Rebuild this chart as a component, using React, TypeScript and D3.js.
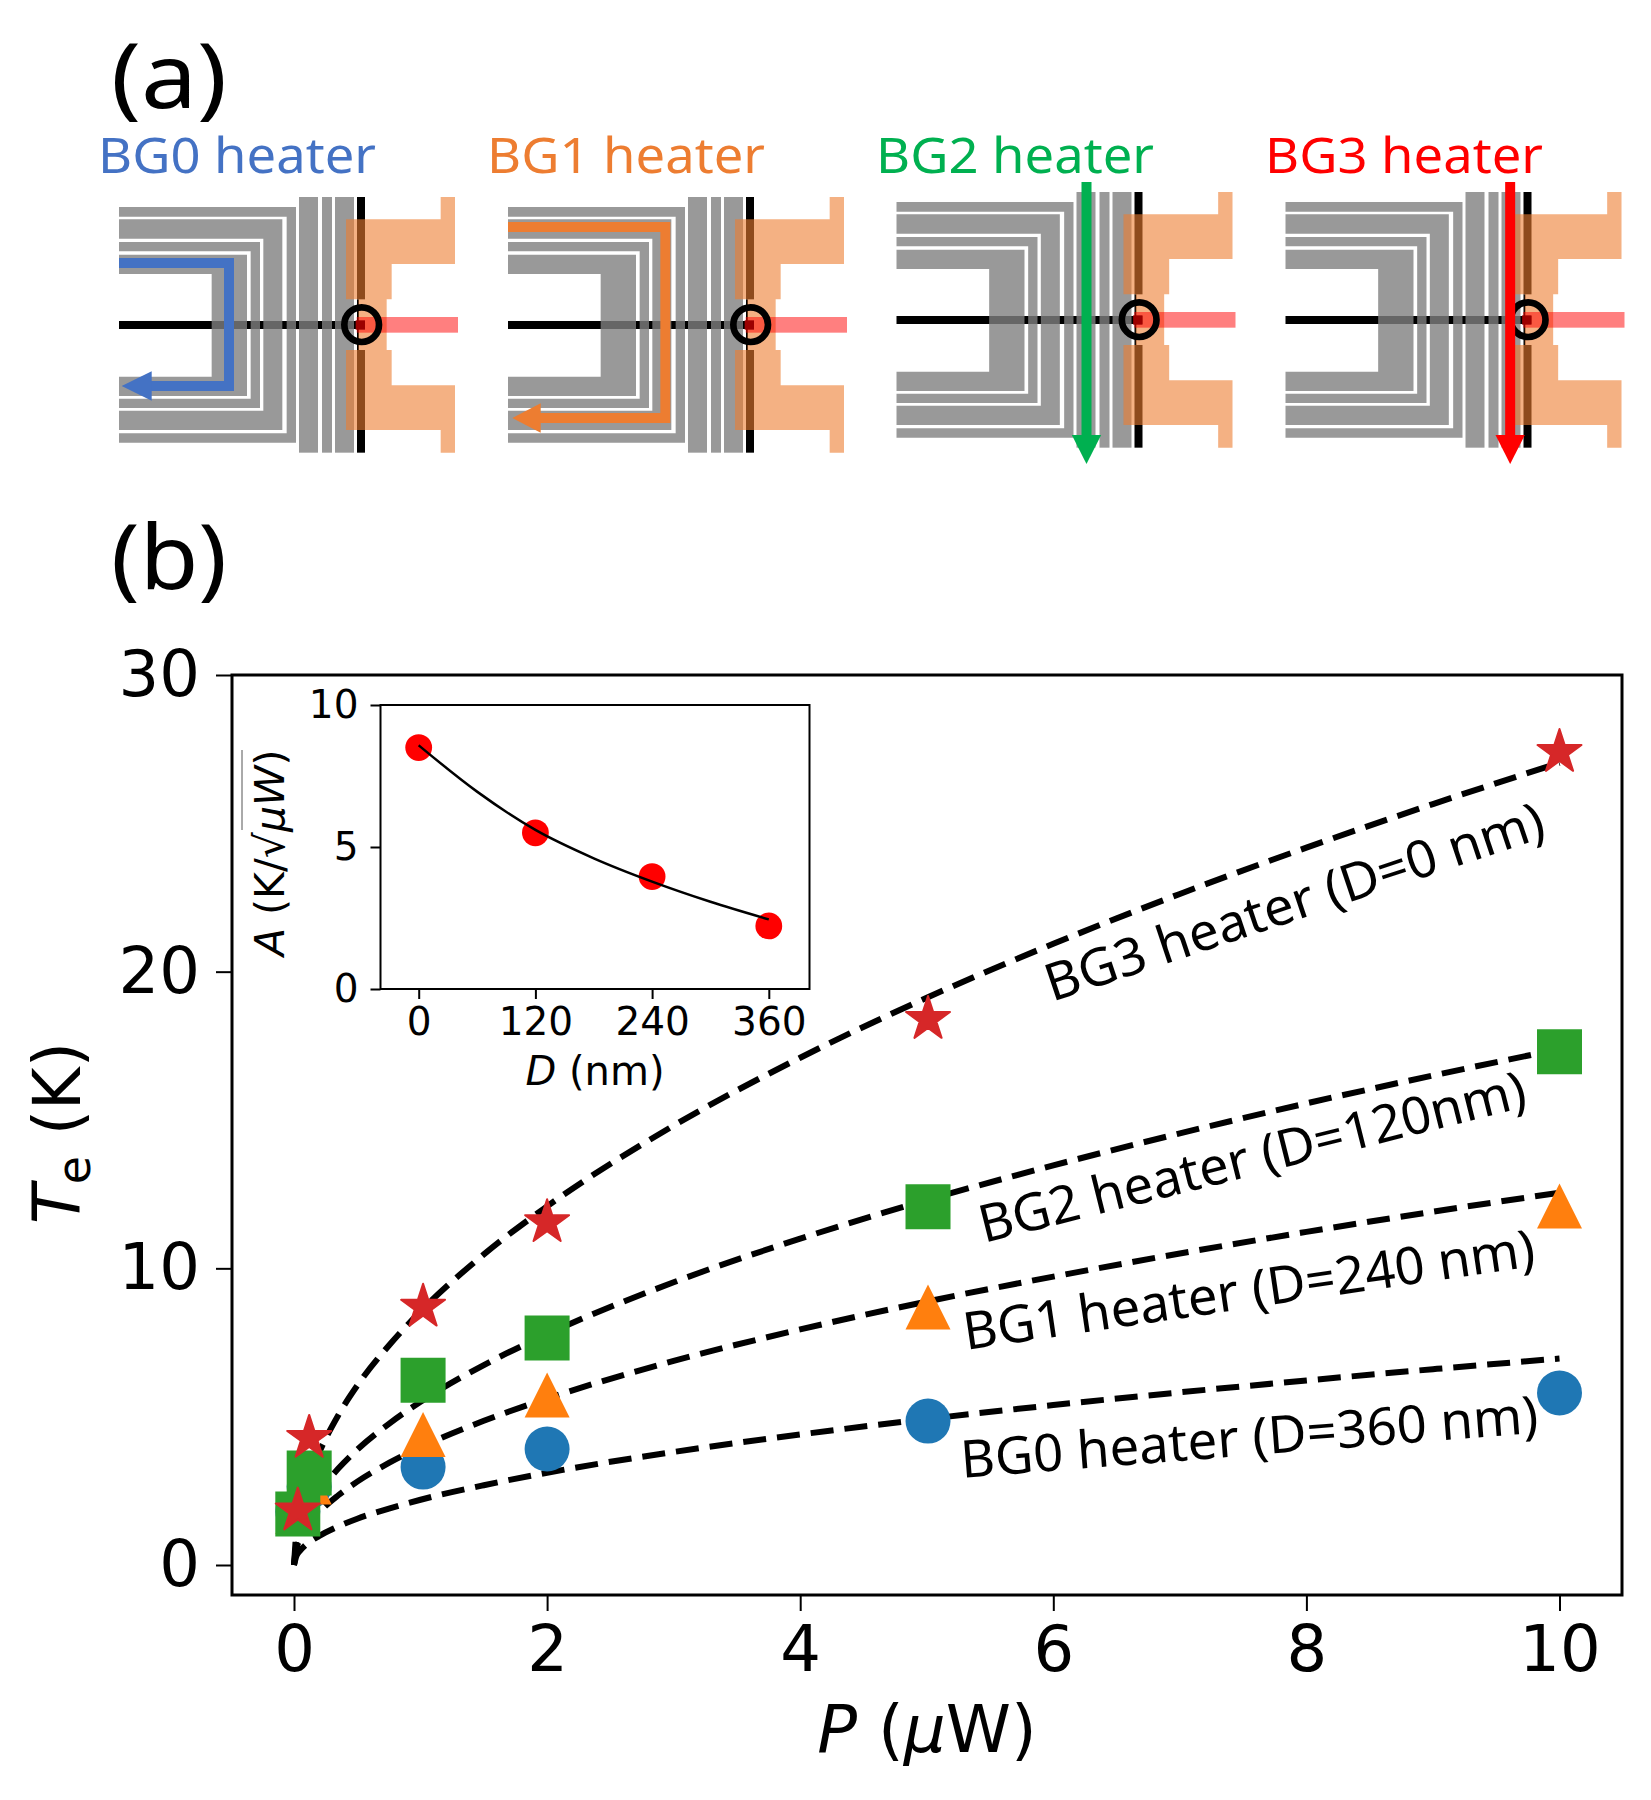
import React, { useEffect, useRef } from "react";
import * as d3 from "d3";

const curveP = [0, 0.02, 0.05, 0.1, 0.2, 0.35, 0.5, 0.75, 1, 1.5, 2, 3, 4, 5, 6, 7, 8, 9, 10];
const curveBG0 = [0, 0.31, 0.49, 0.7, 0.98, 1.3, 1.56, 1.9, 2.2, 2.69, 3.11, 3.81, 4.4, 4.92, 5.39, 5.82, 6.22, 6.6, 6.96];
const curveBG1 = [0, 0.56, 0.89, 1.25, 1.78, 2.35, 2.81, 3.44, 3.97, 4.86, 5.61, 6.88, 7.94, 8.88, 9.72, 10.5, 11.23, 11.91, 12.55];
const curveBG2 = [0, 0.78, 1.23, 1.74, 2.46, 3.25, 3.89, 4.76, 5.5, 6.74, 7.78, 9.53, 11, 12.3, 13.47, 14.55, 15.56, 16.5, 17.39];
const curveBG3 = [0, 1.2, 1.9, 2.7, 3.8, 5.05, 6.05, 7.4, 8.55, 10.47, 12.09, 14.81, 17.1, 19.12, 20.94, 22.62, 24.18, 25.65, 27.04];

// measured points
const pointP = [0.03, 0.12, 1.02, 2, 5.01, 10];
const pointsBG0 = [1.8, 2.64, 3.3, 3.91, 4.85, 5.8];
const pointsBG1 = [1.8, 2.8, 4.4, 5.73, 8.7, 12.1];
const pointsBG2 = [1.72, 3.1, 6.23, 7.65, 12.08, 17.3];
const pointsBG3 = [1.83, 4.28, 8.7, 11.55, 18.4, 27.4];

const xTicks = [0, 2, 4, 6, 8, 10];
const yTicks = [0, 10, 20, 30];

// inset
const insetD = [0, 120, 240, 360];
const insetA = [8.5, 5.5, 3.96, 2.22];
const insetFitD = [0, 60, 120, 180, 240, 300, 360];
const insetFitA = [8.58, 6.95, 5.6, 4.6, 3.78, 3.07, 2.45];
const insetYTicks = [0, 5, 10];

const annotations = [
  { text: "BG3 heater (D=0 nm)", x: 1052, y: 1002, angle: -18.5, length: 523 },
  { text: "BG2 heater (D=120nm)", x: 984, y: 1243, angle: -14.1, length: 562 },
  { text: "BG1 heater (D=240 nm)", x: 966, y: 1350, angle: -8.4, length: 577 },
  { text: "BG0 heater (D=360 nm)", x: 962, y: 1478, angle: -4.5, length: 579 },
];

const SERIES_COLORS = { BG0: "#1f77b4", BG1: "#ff7f0e", BG2: "#2ca02c", BG3: "#d62728" };
const MPL_FONT = "'DejaVu Sans', sans-serif";
const SLIDE_FONT = "'Noto Sans', sans-serif";

// schematic outline, in 3x units of a device's own frame
const uBands = [
  { right: 618, top: 261, bottom: 968, inRight: 590, inTop: 290, inBottom: 940 },
  { right: 577, top: 298, bottom: 930, inRight: 520, inTop: 356, inBottom: 872 },
  { right: 510, top: 366, bottom: 864, inRight: 482, inTop: 394, inBottom: 836 },
  { right: 471, top: 404, bottom: 828, inRight: 365, inTop: 462, inBottom: 770 },
];
const vBars = [[627, 684], [696, 726], [735, 792]];
const padOutline: [number, number][] = [
  [768, 298], [1052, 298], [1052, 231], [1095, 231], [1095, 432], [905, 432], [905, 538], [890, 538],
  [890, 690], [905, 690], [905, 796], [1095, 796], [1095, 998], [1052, 998], [1052, 930], [768, 930],
  [768, 690], [805, 690], [805, 538], [768, 538],
];

const devices = [
  { name: "BG0 heater", color: "#4472C4", dx: 0, dy: 0, titleX: 98, route: [[87, 429], [417, 429], [417, 798], [180, 798]] as [number, number][], tip: [95, 798] },
  { name: "BG1 heater", color: "#ED7D31", dx: 389, dy: 0, titleX: 487, route: [[87, 321], [559, 321], [559, 894], [180, 894]] as [number, number][], tip: [100, 894] },
  { name: "BG2 heater", color: "#00B050", dx: 777.5, dy: -5, titleX: 876, route: [[657, 201], [657, 965]] as [number, number][], tip: [657, 1047] },
  { name: "BG3 heater", color: "#FF0000", dx: 1166.5, dy: -5, titleX: 1265, route: [[761, 201], [761, 965]] as [number, number][], tip: [761, 1047] },
];

export default function App() {
  const svgRef = useRef<SVGSVGElement>(null);

  useEffect(() => {
    if (!svgRef.current) return;
    const svg = d3.select(svgRef.current);
    svg.selectAll("*").remove();

    drawSchematics(svg);
    drawMain(svg);
    drawInset(svg);
  }, []);

  return (
    <svg
      ref={svgRef}
      width={1651}
      height={1800}
      style={{ position: "absolute", left: 0, top: 0, background: "#fff" }}
    />
  );
}

function drawSchematics(svg: any) {
  const lineGen = d3.line();

  ["(a)", "(b)"].forEach((label, i) => {
    svg
      .append("text")
      .attr("x", 111)
      .attr("y", i === 0 ? 108 : 589)
      .attr("font-family", SLIDE_FONT)
      .attr("font-size", 90)
      .attr("textLength", 116)
      .attr("lengthAdjust", "spacingAndGlyphs")
      .attr("fill", "#000")
      .text(label);
  });

  devices.forEach((dev) => {
    svg
      .append("text")
      .attr("x", dev.titleX)
      .attr("y", 173)
      .attr("font-family", SLIDE_FONT)
      .attr("font-size", 50)
      .attr("textLength", 278)
      .attr("lengthAdjust", "spacingAndGlyphs")
      .attr("fill", dev.color)
      .text(dev.name);

    const g = svg
      .append("g")
      .attr("transform", `translate(${90 + dev.dx},${120 + dev.dy}) scale(${1 / 3})`);

    // wires go under the translucent gates
    g.append("rect").attr("x", 87).attr("y", 603).attr("width", 738).attr("height", 24).attr("fill", "#000");
    g.append("rect").attr("x", 801).attr("y", 231).attr("width", 24).attr("height", 307).attr("fill", "#000");
    g.append("rect").attr("x", 801).attr("y", 690).attr("width", 24).attr("height", 308).attr("fill", "#000");
    g.append("rect").attr("x", 801).attr("y", 538).attr("width", 6).attr("height", 152).attr("fill", "#000");

    uBands.forEach((u) => {
      g.append("path")
        .attr(
          "d",
          `M87,${u.top}H${u.right}V${u.bottom}H87V${u.inBottom}H${u.inRight}V${u.inTop}H87Z`
        )
        .attr("fill", "#7F7F7F")
        .attr("fill-opacity", 0.8);
    });
    vBars.forEach(([a, b]) => {
      g.append("rect")
        .attr("x", a)
        .attr("y", 231)
        .attr("width", b - a)
        .attr("height", 767)
        .attr("fill", "#7F7F7F")
        .attr("fill-opacity", 0.8);
    });

    g.append("path")
      .attr("d", lineGen(padOutline) + "Z")
      .attr("fill", "#ED7D31")
      .attr("fill-opacity", 0.6);

    g.append("rect").attr("x", 800).attr("y", 591).attr("width", 304).attr("height", 47).attr("fill", "#FF0000").attr("fill-opacity", 0.5);
    g.append("rect").attr("x", 797).attr("y", 601).attr("width", 28).attr("height", 28).attr("fill", "#9c0000");

    g.append("circle")
      .attr("cx", 815)
      .attr("cy", 614)
      .attr("r", 52)
      .attr("fill", "none")
      .attr("stroke", "#000")
      .attr("stroke-width", 20);

    // heater current arrow
    g.append("path")
      .attr("d", lineGen(dev.route))
      .attr("fill", "none")
      .attr("stroke", dev.color)
      .attr("stroke-width", 30);
    const end = dev.route[dev.route.length - 1];
    const head: [number, number][] =
      dev.route.length === 2
        ? [[end[0] - 44, 960], [end[0] + 44, 960], [dev.tip[0], dev.tip[1]]]
        : [[185, end[1] - 44], [185, end[1] + 44], [dev.tip[0], dev.tip[1]]];
    g.append("path").attr("d", lineGen(head) + "Z").attr("fill", dev.color);
  });
}

function drawMain(svg: any) {
  const margin = { left: 232, right: 1622, top: 675, bottom: 1595 };
  const x = d3.scaleLinear().domain([0, 10]).range([294, 1559.5]);
  const y = d3.scaleLinear().domain([0, 30]).range([1565, 675]);

  svg
    .append("rect")
    .attr("x", margin.left)
    .attr("y", margin.top)
    .attr("width", margin.right - margin.left)
    .attr("height", margin.bottom - margin.top)
    .attr("fill", "none")
    .attr("stroke", "#000")
    .attr("stroke-width", 3);

  const xAxis = svg
    .append("g")
    .attr("transform", `translate(0,${margin.bottom})`)
    .call(d3.axisBottom(x).tickValues(xTicks).tickSize(16).tickPadding(15).tickFormat(d3.format("d")));
  const yAxis = svg
    .append("g")
    .attr("transform", `translate(${margin.left},0)`)
    .call(d3.axisLeft(y).tickValues(yTicks).tickSize(16).tickPadding(16).tickFormat(d3.format("d")));
  [xAxis, yAxis].forEach((a) => {
    a.select(".domain").remove();
    a.selectAll("line").attr("stroke", "#000").attr("stroke-width", 2);
    a.selectAll("text").attr("font-family", MPL_FONT).attr("font-size", 64).attr("fill", "#000");
  });

  // dashed fits
  const fit = d3
    .line<number>()
    .x((_, i) => x(curveP[i]))
    .y((d) => y(d))
    .curve(d3.curveMonotoneX);
  [curveBG0, curveBG1, curveBG2, curveBG3].forEach((c) => {
    svg
      .append("path")
      .attr("d", fit(c))
      .attr("fill", "none")
      .attr("stroke", "#000")
      .attr("stroke-width", 6)
      .attr("stroke-dasharray", "23,11");
  });

  // markers
  const R = 22.5;
  pointsBG0.forEach((v, i) => {
    svg.append("circle").attr("cx", x(pointP[i])).attr("cy", y(v)).attr("r", R).attr("fill", SERIES_COLORS.BG0);
  });
  const tri = d3.line();
  pointsBG1.forEach((v, i) => {
    const cx = x(pointP[i]);
    const cy = y(v);
    svg
      .append("path")
      .attr("d", tri([[cx, cy - R], [cx + R, cy + R], [cx - R, cy + R]]) + "Z")
      .attr("fill", SERIES_COLORS.BG1);
  });
  pointsBG2.forEach((v, i) => {
    svg
      .append("path")
      .attr("d", d3.symbol(d3.symbolSquare, 2025)())
      .attr("transform", `translate(${x(pointP[i])},${y(v)})`)
      .attr("fill", SERIES_COLORS.BG2);
  });
  pointsBG3.forEach((v, i) => {
    svg
      .append("path")
      .attr("d", d3.symbol(d3.symbolStar, 600)())
      .attr("transform", `translate(${x(pointP[i])},${y(v)})`)
      .attr("fill", SERIES_COLORS.BG3)
      .attr("stroke", SERIES_COLORS.BG3)
      .attr("stroke-width", 2)
      .attr("stroke-linejoin", "round");
  });

  annotations.forEach((a) => {
    svg
      .append("text")
      .attr("transform", `translate(${a.x},${a.y}) rotate(${a.angle})`)
      .attr("font-family", SLIDE_FONT)
      .attr("font-size", 52)
      .attr("textLength", a.length)
      .attr("lengthAdjust", "spacingAndGlyphs")
      .attr("fill", "#000")
      .text(a.text);
  });

  // axis labels
  const xLabel = svg
    .append("text")
    .attr("x", 927)
    .attr("y", 1752)
    .attr("text-anchor", "middle")
    .attr("font-family", MPL_FONT)
    .attr("font-size", 66)
    .attr("fill", "#000");
  xLabel.append("tspan").attr("font-style", "italic").text("P");
  xLabel.append("tspan").text(" (");
  xLabel.append("tspan").attr("font-style", "italic").text("μ");
  xLabel.append("tspan").text("W)");

  const yLabel = svg
    .append("text")
    .attr("transform", "translate(80,1133) rotate(-90)")
    .attr("text-anchor", "middle")
    .attr("font-family", MPL_FONT)
    .attr("font-size", 65)
    .attr("fill", "#000");
  yLabel.append("tspan").attr("font-style", "italic").text("T");
  yLabel.append("tspan").attr("font-size", 46).attr("dy", 10).text("e");
  yLabel.append("tspan").attr("dy", -10).text(" (K)");
}

function drawInset(svg: any) {
  const box = { left: 380.5, right: 809.5, top: 705, bottom: 989 };
  const x = d3.scaleLinear().domain([0, 360]).range([418.7, 768.8]);
  const y = d3.scaleLinear().domain([0, 10]).range([box.bottom, box.top]);

  svg
    .append("rect")
    .attr("x", box.left)
    .attr("y", box.top)
    .attr("width", box.right - box.left)
    .attr("height", box.bottom - box.top)
    .attr("fill", "#fff")
    .attr("stroke", "#000")
    .attr("stroke-width", 2);

  const xAxis = svg
    .append("g")
    .attr("transform", `translate(0,${box.bottom})`)
    .call(d3.axisBottom(x).tickValues(insetD).tickSize(10).tickPadding(8).tickFormat(d3.format("d")));
  const yAxis = svg
    .append("g")
    .attr("transform", `translate(${box.left},0)`)
    .call(d3.axisLeft(y).tickValues(insetYTicks).tickSize(10).tickPadding(12).tickFormat(d3.format("d")));
  [xAxis, yAxis].forEach((a) => {
    a.select(".domain").remove();
    a.selectAll("line").attr("stroke", "#000").attr("stroke-width", 2);
    a.selectAll("text").attr("font-family", MPL_FONT).attr("font-size", 39).attr("fill", "#000");
  });

  insetD.forEach((d, i) => {
    svg.append("circle").attr("cx", x(d)).attr("cy", y(insetA[i])).attr("r", 13.4).attr("fill", "#ff0000");
  });

  const fit = d3
    .line<number>()
    .x((_, i) => x(insetFitD[i]))
    .y((d) => y(d))
    .curve(d3.curveMonotoneX);
  svg.append("path").attr("d", fit(insetFitA)).attr("fill", "none").attr("stroke", "#000").attr("stroke-width", 2.5);

  const xLabel = svg
    .append("text")
    .attr("x", 595)
    .attr("y", 1085)
    .attr("text-anchor", "middle")
    .attr("font-family", MPL_FONT)
    .attr("font-size", 40)
    .attr("fill", "#000");
  xLabel.append("tspan").attr("font-style", "italic").text("D");
  xLabel.append("tspan").text(" (nm)");

  const yGroup = svg.append("g").attr("transform", "translate(284,956) rotate(-90)");
  const yLabel = yGroup
    .append("text")
    .attr("font-family", MPL_FONT)
    .attr("font-size", 41)
    .attr("fill", "#000");
  yLabel.append("tspan").attr("font-style", "italic").text("A");
  yLabel.append("tspan").text(" (K/√");
  yLabel.append("tspan").attr("font-style", "italic").text("μW");
  yLabel.append("tspan").text(")");
  // radical bar over the μW
  yGroup.append("line").attr("x1", 126).attr("x2", 206).attr("y1", -42).attr("y2", -42).attr("stroke", "#555").attr("stroke-width", 1);
}
